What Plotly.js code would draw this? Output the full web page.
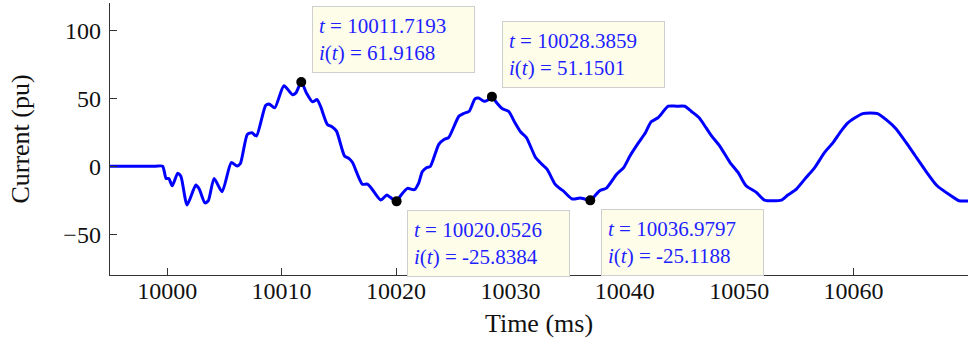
<!DOCTYPE html>
<html>
<head>
<meta charset="utf-8">
<script src="https://cdn.plot.ly/plotly-3.0.1.min.js"></script>
<style>html,body{margin:0;padding:0;background:#fff;}#chart{width:968px;height:348px;}</style>
</head>
<body>
<div id="chart"></div>
<script>
// Time (ms)
var timeMs = [9995, 9997, 9999, 9999.6, 9999.9, 10000.14, 10000.44, 10000.92, 10001.2, 10001.74, 10002.5, 10002.8,
  10003.3, 10003.6, 10004.1, 10004.8, 10005.6, 10006.1, 10006.4, 10007.0, 10007.4, 10007.8,
  10008.6, 10008.9, 10009.4, 10010.2, 10010.95, 10011.25, 10011.72, 10012.17, 10012.7, 10013.1,
  10013.4, 10014.0, 10014.4, 10014.8, 10015.5, 10015.9, 10016.2, 10017.05, 10017.5, 10017.8,
  10018.66, 10019.2, 10019.5, 10020.05, 10020.4, 10021.0, 10021.6, 10022.0, 10022.3, 10022.7,
  10023.0, 10023.74, 10024.2, 10024.6, 10025.5, 10025.9, 10026.4, 10026.9, 10027.2, 10027.7,
  10028.0, 10028.39, 10028.8, 10029.3, 10029.85, 10030.4, 10030.9, 10031.4, 10032.2, 10032.6,
  10033.2, 10033.9, 10034.2, 10034.6, 10035.4, 10036.1, 10036.5, 10036.98, 10037.8, 10038.4,
  10039.3, 10039.9, 10040.45, 10041.2, 10041.8, 10042.3, 10042.9, 10043.8, 10044.5, 10045.25,
  10045.8, 10046.5, 10047.1, 10047.6, 10048.3, 10049.2, 10049.9, 10050.6, 10051.5, 10052.2,
  10053.7, 10054.25, 10055.0, 10055.85, 10056.6, 10057.45, 10058.2, 10058.9, 10059.5, 10060.8,
  10062.1, 10063.0, 10063.7, 10064.6, 10065.4, 10066.3, 10067.3, 10068.5, 10069.2, 10070];
// Current (pu)
var currentPu = [0, 0, 0, 0, -9, -9, -14.4, -5.1, -7.5, -28.5, -13.9, -16.8,
  -27, -25.3, -9, -18.8, 2.7, 0.2, 2, 23.4, 24.6, 22.2,
  44.6, 45.8, 42.9, 59.2, 52.6, 53.9, 61.92, 53.9, 47.3, 49,
  44.1, 30.7, 29, 25.8, 7.5, 5.6, 2.7, -13.2, -13.2, -15.6,
  -24.9, -21.2, -22.9, -25.84, -21.7, -16.3, -17.3, -12, -4, -1,
  -0.2, 16.1, 19.7, 21, 36.8, 38.7, 40.4, 49.5, 50.2, 47.7,
  48.5, 51.15, 46.6, 42.2, 40.4, 31.9, 25.1, 21, 6.4, 2.7,
  -2.2, -13.2, -15.6, -18, -24.1, -23.4, -24.1, -25.12, -18, -16.1,
  -5.8, -1, 7.5, 17.3, 24.6, 32.7, 35.6, 44.1, 44.1, 44.1,
  40.4, 35.6, 28.3, 22.1, 14.8, 2.7, -4.6, -14.4, -19.2, -24.9,
  -24.9, -21.2, -16.8, -8.3, -1, 10, 17.3, 25.8, 31.9, 38.7,
  38.7, 33.1, 27.6, 17.3, 7.5, -3.4, -14.4, -21.7, -25.4, -25.6];

// Data tips
var tipT = [10011.7193, 10020.0526, 10028.3859, 10036.9797];
var tipI = [61.9168, -25.8384, 51.1501, -25.1188];
var tipAbove = [true, false, true, false];

var xTickVals = [10000, 10010, 10020, 10030, 10040, 10050, 10060];
var xTickText = ['10000', '10010', '10020', '10030', '10040', '10050', '10060'];
var yTickVals = [-50, 0, 50, 100];
var yTickText = ['\u221250', '0', '50', '100'];

var serif = '"Liberation Serif", "Times New Roman", serif';

var traces = [
  {x: timeMs, y: currentPu, type: 'scatter', mode: 'lines',
   line: {color: '#0000ff', width: 3, shape: 'spline', smoothing: 0.6},
   hoverinfo: 'skip'},
  {x: tipT, y: tipI, type: 'scatter', mode: 'markers',
   marker: {color: '#000', size: 10}, hoverinfo: 'skip'}
];

var annotations = tipT.map(function (t, k) {
  return {
    x: t, y: tipI[k], xref: 'x', yref: 'y',
    text: '<i>t</i> = ' + t.toFixed(4) + '<br><i>i</i>(<i>t</i>) = ' + tipI[k].toFixed(4),
    showarrow: true, arrowcolor: 'rgba(0,0,0,0)', arrowwidth: 0.1, arrowhead: 0,
    ax: 92, ay: tipAbove[k] ? -42 : 42,
    align: 'left', width: 149, height: 53, borderpad: 6,
    bgcolor: '#fdfde9', bordercolor: '#cfcfcf', borderwidth: 1,
    font: {family: serif, size: 21, color: '#1f1fff'}
  };
});

var layout = {
  width: 968, height: 348,
  margin: {l: 110, r: 0, t: 3, b: 73},
  paper_bgcolor: '#fff', plot_bgcolor: '#fff',
  showlegend: false,
  xaxis: {
    range: [9995, 10070], tickvals: xTickVals, ticktext: xTickText,
    showline: true, linecolor: '#333', linewidth: 1.3, mirror: false,
    ticks: 'inside', ticklen: 7, tickcolor: '#333', tickwidth: 1,
    showgrid: false, zeroline: false, ticklabelstandoff: -6,
    tickfont: {family: serif, size: 24, color: '#111'},
    title: {text: 'Time (ms)', font: {family: serif, size: 26, color: '#111'}, standoff: 10}
  },
  yaxis: {
    range: [-80, 120], tickvals: yTickVals, ticktext: yTickText,
    showline: true, linecolor: '#333', linewidth: 1.3, mirror: false,
    ticks: 'inside', ticklen: 7, tickcolor: '#333', tickwidth: 1,
    showgrid: false, zeroline: false, ticklabelstandoff: 3,
    tickfont: {family: serif, size: 24, color: '#111'},
    title: {text: 'Current (pu)', font: {family: serif, size: 26, color: '#111'}, standoff: 26}
  },
  annotations: annotations
};

Plotly.newPlot('chart', traces, layout, {displayModeBar: false, staticPlot: true});
</script>
</body>
</html>
